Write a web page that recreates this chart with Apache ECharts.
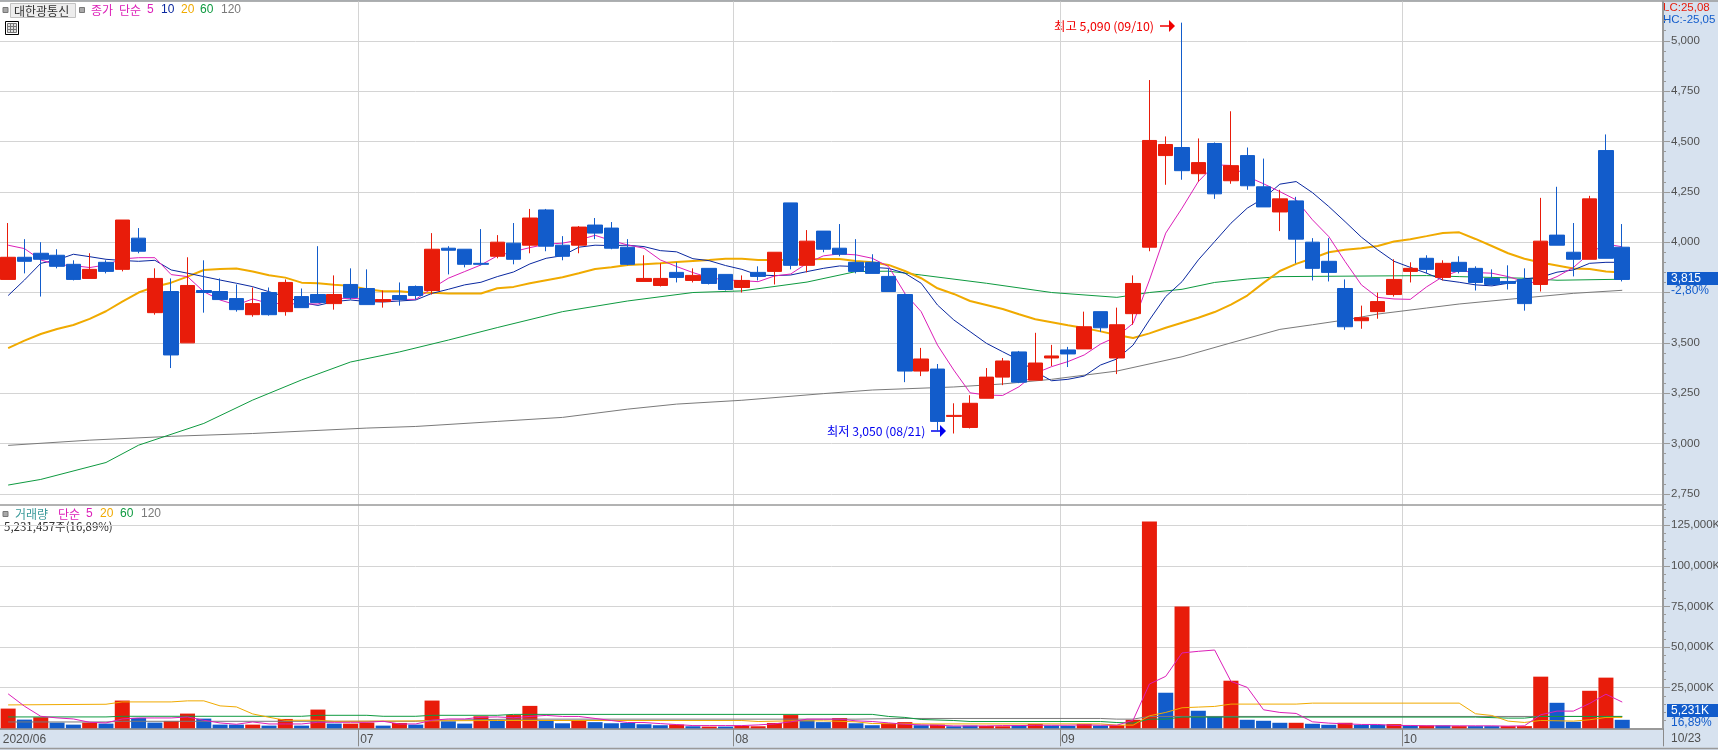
<!DOCTYPE html>
<html><head><meta charset="utf-8">
<style>html,body{margin:0;padding:0;background:#D7E2EF}#c{width:1718px;height:750px}</style>
<script src="https://cdn.jsdelivr.net/npm/echarts@6/dist/echarts.min.js"></script>
</head><body><div id="c"></div>
<script>
// Month of each trading day (June..Oct 2020) as category labels; two blank bands at right
const monthDays = {'06':[1,2,3,4,5,8,9,10,11,12,15,16,17,18,19,22,23,24,25,26,29,30],
 '07':[1,2,3,6,7,8,9,10,13,14,15,16,17,20,21,22,23,24,27,28,29,30,31],
 '08':[3,4,5,6,7,10,11,12,13,14,18,19,20,21,24,25,26,27,28,31],
 '09':[1,2,3,4,7,8,9,10,11,14,15,16,17,18,21,22,23,24,25,28,29],
 '10':[5,6,7,8,12,13,14,15,16,19,20,21,22,23]};
const monthStarts = [22,45,65,86];
const xLabels = {1:'2020/06',22:'07',45:'08',65:'09',86:'10'};
const priceTicks = [2750,3000,3250,3500,3750,4000,4250,4500,4750,5000];
// 3,750 has its label covered by the current-price tag in the reference
const priceLabels = [2750,3000,3250,3500,4000,4250,4500,4750,5000];
const volTicks = [25000,50000,75000,100000,125000];

const candleOpen = [3815,3925,3945,3935,3890,3820,3900,3865,4020,3650,3755,3500,3760,3755,3720,3640,3750,3655,3730,3740,3695,3790,3770,3705,3735,3780,3760,3970,3965,3895,3930,3995,3985,4160,3985,3985,4085,4070,3975,3805,3785,3850,3810,3870,3840,3775,3850,3855,4195,3885,4055,3970,3900,3900,3830,3740,3360,3370,3135,3080,3225,3330,3455,3315,3425,3465,3470,3655,3425,3645,3975,4430,4470,4340,4490,4305,4430,4275,4150,4205,4000,3905,3770,3610,3655,3740,3855,3920,3825,3900,3870,3820,3805,3815,3790,4035,3950,3915,4455,3975];
const candleClose = [3925,3905,3915,3880,3815,3865,3855,4110,3955,3820,3440,3785,3750,3715,3665,3695,3640,3800,3675,3700,3740,3725,3690,3715,3715,3735,3965,3960,3890,3890,4000,3915,4120,3980,3930,4075,4045,3970,3890,3820,3820,3825,3835,3795,3765,3810,3830,3950,3885,4005,3965,3940,3855,3845,3755,3360,3420,3110,3140,3200,3330,3410,3305,3400,3435,3445,3580,3575,3590,3795,4505,4485,4355,4395,4240,4380,4280,4175,4215,4015,3870,3850,3580,3625,3705,3815,3870,3865,3895,3855,3800,3790,3795,3695,4005,3985,3915,4215,3920,3815];
const candleLow = [3815,3845,3730,3870,3810,3820,3845,3855,3945,3640,3375,3500,3650,3715,3655,3630,3635,3635,3675,3700,3665,3715,3690,3675,3685,3715,3740,3840,3875,3885,3920,3890,3945,3955,3910,3945,4015,3965,3885,3805,3780,3800,3800,3790,3760,3750,3810,3790,3865,3850,3950,3930,3845,3845,3755,3305,3335,3060,3050,3075,3225,3290,3300,3315,3385,3380,3470,3555,3345,3590,3955,4285,4310,4300,4215,4290,4260,4175,4055,3895,3810,3805,3565,3570,3620,3730,3800,3845,3810,3845,3760,3785,3765,3660,3755,3985,3830,3915,3920,3805];
const candleHigh = [4095,4015,4000,3965,3910,3945,3910,4110,4070,3870,3820,3925,3910,3820,3790,3775,3775,3815,3770,3980,3835,3870,3865,3760,3800,3785,4045,3980,3965,4065,4035,4095,4165,4165,4030,4080,4120,4100,4015,3935,3895,3900,3870,3870,3840,3835,3880,3950,4195,4060,4055,4090,4015,3940,3870,3745,3475,3395,3200,3240,3375,3425,3460,3550,3490,3480,3655,3655,3675,3835,4805,4525,5090,4515,4495,4650,4470,4415,4260,4225,4020,4020,3815,3685,3750,3915,3900,3935,3910,3930,3880,3865,3885,3870,4220,4275,4095,4230,4535,4090];

const ma5 = [3985,3968,3912,3887,3884,3874,3887,3917,3923,3923,3839,3829,3754,3713,3688,3718,3696,3695,3693,3693,3721,3721,3718,3710,3716,3716,3771,3821,3854,3887,3932,3953,3973,3990,3995,4011,4034,4008,3986,3970,3912,3879,3849,3824,3812,3809,3804,3832,3842,3895,3932,3942,3937,3920,3879,3746,3655,3489,3365,3252,3241,3239,3282,3349,3382,3407,3440,3494,3531,3597,3812,4045,4169,4301,4384,4381,4326,4290,4251,4210,4111,4028,3904,3788,3726,3718,3716,3778,3829,3859,3849,3846,3829,3804,3796,3829,3874,3945,3991,3977];
const ma10 = [3735,3812,3895,3912,3940,3928,3915,3909,3905,3910,3862,3846,3829,3812,3796,3779,3754,3730,3700,3686,3705,3713,3705,3703,3708,3713,3746,3766,3788,3801,3829,3852,3892,3920,3933,3975,3985,3983,3985,3978,3958,3952,3918,3908,3884,3865,3837,3834,3837,3854,3870,3882,3879,3875,3870,3846,3796,3688,3614,3556,3498,3456,3415,3357,3312,3319,3335,3390,3420,3489,3614,3730,3804,3912,4003,4094,4169,4218,4288,4301,4246,4177,4102,4025,3962,3905,3875,3846,3812,3801,3788,3783,3796,3818,3826,3851,3862,3895,3900,3900];
const ma20 = [3474,3511,3544,3569,3589,3619,3657,3705,3750,3779,3799,3829,3862,3867,3869,3854,3836,3824,3799,3796,3788,3783,3766,3756,3756,3749,3749,3745,3745,3745,3771,3778,3796,3811,3826,3846,3867,3875,3887,3890,3895,3902,3907,3912,3918,3918,3912,3912,3912,3915,3917,3917,3907,3900,3887,3857,3821,3771,3743,3708,3688,3668,3642,3617,3602,3587,3574,3557,3539,3524,3547,3575,3600,3625,3653,3690,3735,3798,3857,3892,3920,3950,3962,3970,3981,4003,4015,4030,4046,4049,4016,3981,3945,3918,3899,3884,3869,3867,3854,3849];
// Slow averages: [candle index, value] at the places they were read
const ma60 = [[0,2794],[2,2822],[6,2906],[8,2992],[12,3100],[15,3216],[18,3316],[21,3405],[24,3455],[27,3514],[30,3576],[34,3655],[38,3708],[42,3750],[45,3758],[49,3802],[52,3854],[54,3856],[56,3837],[60,3796],[64,3750],[68,3726],[70,3750],[72,3766],[74,3800],[76,3817],[78,3829],[87,3834],[89,3829],[93,3821],[95,3811],[99,3816]];
const ma120 = [[0,2991],[5,3017],[10,3036],[15,3050],[22,3077],[25,3085],[30,3110],[34,3130],[38,3171],[41,3196],[45,3215],[50,3248],[53,3266],[58,3281],[61,3296],[64,3319],[68,3360],[72,3431],[75,3500],[78,3567],[80,3590],[82,3614],[84,3643],[87,3673],[89,3693],[92,3716],[96,3746],[99,3761]];

const volumes = [12140,5350,6790,3500,2260,3500,2880,17080,6380,3500,4530,9055,5970,2260,2260,2260,1650,5760,1650,11525,2880,2880,3500,1650,3290,2260,17080,4320,2880,7410,4600,8150,13800,5000,3100,5000,3800,3100,3300,2500,1900,2300,1250,1050,1050,1450,1250,3300,8150,5000,3800,6300,3100,1900,2900,3800,1900,2300,1250,1650,1450,1250,1650,2700,1650,1450,2700,1650,1900,5250,127400,21900,75000,10800,7300,29300,5250,4630,3400,3400,2780,2160,3400,2160,2160,2570,1750,1750,1750,1340,1340,1340,1340,1340,31800,15700,4000,23100,31200,5231];
const volumeRedDays = [0,2,5,7,10,11,15,17,19,21,22,24,26,29,31,32,35,41,43,45,46,47,48,51,54,55,57,60,61,63,66,68,69,70,72,75,79,82,85,87,89,92,93,94,97,98];
const volMa5 = [21200,13600,7400,6400,5760,3700,3300,5760,6380,6380,6380,7000,4940,3300,2470,3900,2675,2675,2675,3700,3700,3700,3700,4320,2675,2675,4940,5760,5760,6790,7000,6500,7300,7940,7300,7300,6060,4800,3550,3550,2900,2300,1670,1670,1670,1670,2090,2700,3970,5640,5640,5640,4600,4180,3340,2500,2090,1880,1460,1460,1460,1670,1670,1880,1880,1880,2090,1880,1880,5000,27250,32000,46400,47400,48200,28900,25200,11400,9770,9150,4000,3190,2780,2365,2365,1750,1750,1540,1540,1540,1540,1540,1340,1540,8330,10590,10590,15300,21000,16150];
const volMa20 = [[0,14400],[6,14800],[7,16250],[10,16250],[11,16900],[12,16900],[13,13800],[14,13170],[15,8850],[16,6800],[17,4940],[19,4940],[20,4300],[30,4800],[45,4800],[46,4180],[48,4600],[50,4600],[52,4000],[53,2930],[56,2700],[67,2700],[68,1950],[69,1950],[70,7700],[71,9770],[72,12650],[73,13060],[74,13470],[75,14900],[79,14900],[80,15500],[89,15500],[90,8950],[91,7900],[92,4420],[93,3600],[94,4830],[96,4420],[97,5250],[98,6700],[99,6700]];
const volMa60 = [[0,7000],[6,7000],[7,7400],[18,7400],[19,8000],[22,8000],[23,7400],[25,7400],[26,8000],[30,8000],[31,8570],[53,8570],[54,7300],[55,6690],[56,5430],[58,4800],[59,4180],[67,4180],[68,3550],[69,3190],[70,5650],[71,5650],[72,6900],[90,6900],[92,6270],[93,6270],[94,7300],[99,7300]];
const volMa120 = [[0,3900],[6,3900],[7,4320],[25,4320],[26,4940],[31,5640],[52,5640],[55,6060],[67,6060],[68,5650],[69,5650],[70,7300],[99,7300]];

const C = {red:'#E81C0A',blue:'#125CCB',mag:'#DC1FB8',navy:'#0A28A0',org:'#F0AA00',grn:'#0E9A40',gry:'#7A7A7A',grid:'#D4D4D4',axis:'#9A9A9A',txt:'#505050',strip:'#D7E2EF'};
const LATIN = '"Liberation Sans",sans-serif', KR = '"Noto Sans CJK KR","Liberation Sans",sans-serif';

const categories = [];
Object.keys(monthDays).forEach(m => monthDays[m].forEach(d => categories.push(m+'/'+String(d).padStart(2,'0'))));
categories.push('', '');
const candles = candleOpen.map((o,i)=>[o,candleClose[i],candleLow[i],candleHigh[i]]);
const isMonth = i => monthStarts.includes(i);
const seq = (a,b,s)=>{const r=[];for(let v=a;v<=b;v+=s)r.push(v);return r;};
const fmt = v => String(v).replace(/\B(?=(\d{3})+$)/g,',');

const xBase = {type:'category',data:categories,boundaryGap:true,
  splitLine:{show:true,interval:isMonth,lineStyle:{color:C.grid,width:1}}};
const hidden = {show:false};

function rightAxis(gridIndex,min,max,major,labelVals,minor,labelFn){
  return [{type:'value',gridIndex,min,max,position:'right',
    axisLine:{show:true,lineStyle:{color:C.axis,width:2}},
    axisTick:{show:true,length:7,customValues:major,lineStyle:{color:C.axis}},
    axisLabel:{show:true,customValues:labelVals,formatter:labelFn,margin:8,fontFamily:LATIN,fontSize:11.5,color:C.txt,align:'left'},
    splitLine:{show:true,customValues:major,lineStyle:{color:C.grid,width:1}}},
   {type:'value',gridIndex,min,max,position:'right',
    axisLine:hidden,axisLabel:hidden,splitLine:hidden,
    axisTick:{show:true,length:3,customValues:minor,lineStyle:{color:C.axis}}}];
}
const line = (name,data,color,width,xi,yi) => ({name,type:'line',data,xAxisIndex:xi,yAxisIndex:yi,symbol:'none',z:2,silent:true,
  lineStyle:{color,width},itemStyle:{color},connectNulls:true});

const t = (x,y,text,fill,opt={}) => ({type:'text',x,y,silent:true,style:Object.assign({text,fill,font:'12px '+KR,textVerticalAlign:'middle'},opt)});
const rect = (x,y,w,h,fill,stroke) => ({type:'rect',silent:true,shape:{x,y,width:w,height:h},style:{fill,stroke:stroke||null,lineWidth:1}});
const seg = (x1,y1,x2,y2,stroke,lw=1) => ({type:'line',silent:true,shape:{x1,y1,x2,y2},style:{stroke,lineWidth:lw}});
const tri = (pts,fill) => ({type:'polygon',silent:true,shape:{points:pts},style:{fill}});

const overlay = [
  seg(0,1,1718,1,'#9A9A9A',1.5),
  seg(0,748.5,1718,748.5,'#9A9A9A',1.5),
  rect(3,7.5,5,5,'#A8A8A8','#777'),
  rect(10.5,3.5,65,14,'#EDEDED','#C2C2C2'),
  t(14,11,'대한광통신','#333'),
  rect(79.5,7.5,5,5,'#A8A8A8','#777'),
  t(91,10,'종가',C.mag),
  t(119,10,'단순',C.mag),
  t(147,10,'5',C.mag,{font:'12px '+LATIN}),
  t(161,10,'10',C.navy,{font:'12px '+LATIN}),
  t(181,10,'20',C.org,{font:'12px '+LATIN}),
  t(200,10,'60',C.grn,{font:'12px '+LATIN}),
  t(221,10,'120',C.gry,{font:'12px '+LATIN}),
  rect(5.5,21.5,13,13,'#fff','#000'),
  rect(7.5,23.5,9,9,'#E0E0E0','#777'),
  seg(7.5,26.5,16.5,26.5,'#777'),seg(7.5,29.5,16.5,29.5,'#777'),seg(10.5,23.5,10.5,32.5,'#777'),seg(13.5,23.5,13.5,32.5,'#777'),
  rect(3,511.5,5,5,'#A8A8A8','#777'),
  t(15,514,'거래량','#3A9A9A'),
  t(58,514,'단순',C.mag),
  t(86,514,'5',C.mag,{font:'12px '+LATIN}),
  t(100,514,'20',C.org,{font:'12px '+LATIN}),
  t(120,514,'60',C.grn,{font:'12px '+LATIN}),
  t(141,514,'120',C.gry,{font:'12px '+LATIN}),
  t(4,527,'5,231,457주(16,89%)','#333',{font:'11.5px '+KR}),
  t(1054,26,'최고 5,090 (09/10)','#F00000',{font:'12.4px '+KR}),
  seg(1160,26,1170,26,'#F00000',1.5),
  tri([[1169,20],[1175,26],[1169,32]],'#F00000'),
  t(827,431,'최저 3,050 (08/21)','#0000F0',{font:'12.2px '+KR}),
  seg(931,431,941,431,'#0000F0',1.5),
  tri([[940,425],[946,431],[940,437]],'#0000F0'),
  t(1663,8,'LC:25,08','#E81C0A',{font:'11.5px '+LATIN}),
  t(1663,20,'HC:-25,05',C.blue,{font:'11.5px '+LATIN}),
  rect(1667,272,51,13,C.blue),
  t(1671,278.5,'3,815','#fff',{font:'12px '+LATIN}),
  t(1671,291,'-2,80%',C.blue,{font:'12px '+LATIN}),
  rect(1667,704,51,13,C.blue),
  t(1671,710.5,'5,231K','#fff',{font:'12px '+LATIN}),
  t(1671,723,'16,89%',C.blue,{font:'12px '+LATIN}),
  t(1671,739,'10/23',C.txt,{font:'12px '+LATIN}),
];

const volMax = 137315, pMin = 2695, pMax = 5195;
const pa = rightAxis(0,pMin,pMax,priceTicks,priceLabels,seq(2700,5150,50),v=>fmt(v));
const va = rightAxis(1,0,volMax,volTicks,volTicks,seq(5000,135000,5000),v=>fmt(v)+'K');

const chart = echarts.init(document.getElementById('c'),null,{renderer:'canvas'});
chart.setOption({
  animation:false,backgroundColor:C.strip,
  grid:[
    {left:0,top:1.5,width:1663,height:503.5,show:true,backgroundColor:'#fff',borderWidth:0,containLabel:false,outerBoundsMode:'none'},
    {left:0,top:505.3,width:1663,height:223,show:true,backgroundColor:'#fff',borderWidth:0,containLabel:false,outerBoundsMode:'none'}
  ],
  xAxis:[
    Object.assign({},xBase,{gridIndex:0,axisLine:{show:true,lineStyle:{color:C.axis,width:1.5}},axisTick:hidden,axisLabel:hidden}),
    Object.assign({},xBase,{gridIndex:1,offset:1,
      axisLine:{show:true,lineStyle:{color:C.axis,width:2}},
      axisTick:{show:true,interval:isMonth,length:18,lineStyle:{color:'#8A8A8A'}},
      axisLabel:{show:true,interval:i=>xLabels[i]!==undefined,formatter:(v,i)=>xLabels[i]||'',margin:4,fontFamily:LATIN,fontSize:12,color:C.txt,hideOverlap:false}})
  ],
  yAxis:[pa[0],pa[1],va[0],va[1]],
  series:[
    line('120',ma120,C.gry,1,0,0),
    line('60',ma60,C.grn,1,0,0),
    line('20',ma20,C.org,2,0,0),
    line('10',ma10,C.navy,1,0,0),
    line('5',ma5,C.mag,1,0,0),
    {name:'대한광통신',type:'candlestick',data:candles,xAxisIndex:0,yAxisIndex:0,barWidth:15,z:3,silent:true,
      itemStyle:{color:C.red,color0:C.blue,borderColor:C.red,borderColor0:C.blue,borderWidth:1}},
    {name:'거래량',type:'bar',xAxisIndex:1,yAxisIndex:2,barWidth:15,z:1,silent:true,
      data:volumes.map((v,i)=>({value:v,itemStyle:{color:volumeRedDays.includes(i)?C.red:C.blue}}))},
    line('V120',volMa120,C.gry,1,1,2),
    line('V60',volMa60,C.grn,1,1,2),
    line('V20',volMa20,C.org,1,1,2),
    line('V5',volMa5,C.mag,1,1,2),
  ],
  graphic:{elements:overlay}
});
</script></body></html>
